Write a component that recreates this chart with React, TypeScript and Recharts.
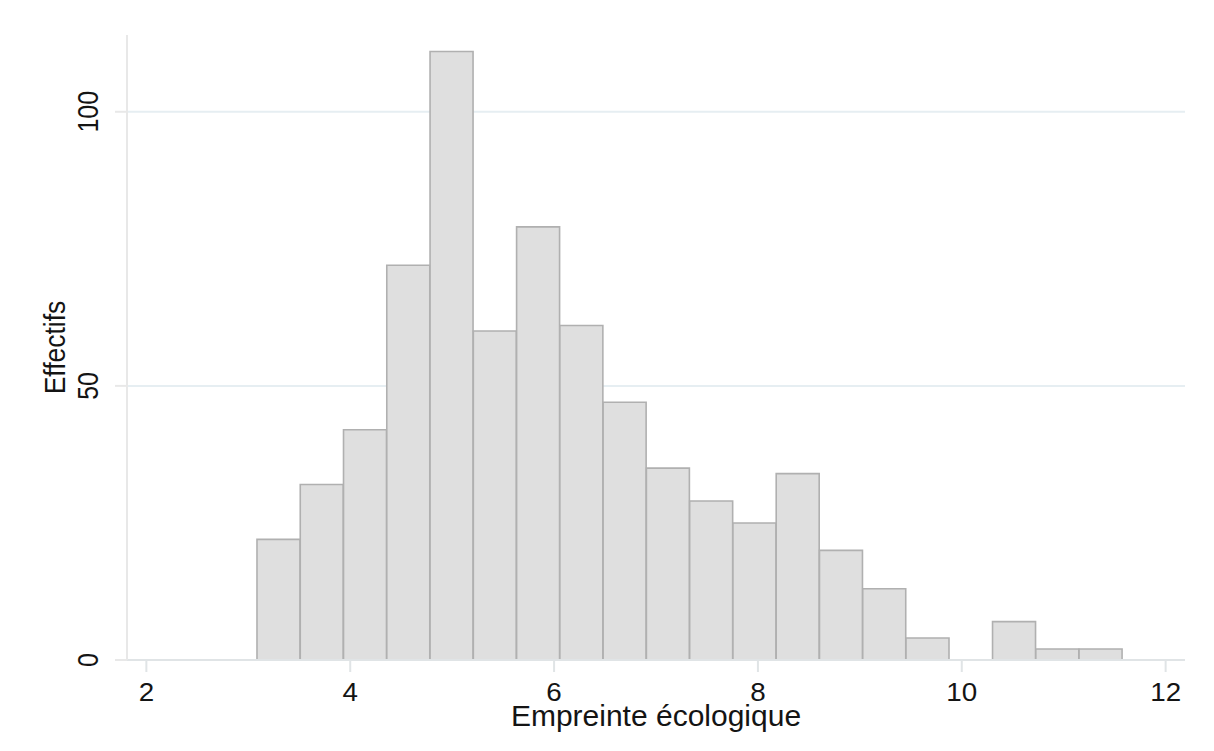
import type { FC } from "react";
import {
  BarChart,
  Bar,
  XAxis,
  YAxis,
  CartesianGrid,
  Label,
} from "recharts";

// Bin edges (Empreinte écologique) and counts per bin
const binEdges = [
  3.085, 3.51, 3.934, 4.359, 4.783, 5.208, 5.632, 6.057, 6.481, 6.906, 7.33,
  7.755, 8.179, 8.604, 9.028, 9.453, 9.877, 10.302, 10.726, 11.151, 11.575,
];
const counts = [
  22, 32, 42, 72, 111, 60, 79, 61, 47, 35, 29, 25, 34, 20, 13, 4, 0, 7, 2, 2,
];
const xTicks = [2, 4, 6, 8, 10, 12];
const yTicks = [0, 50, 100];

const data = counts.map((count, i) => ({
  lo: binEdges[i],
  hi: binEdges[i + 1],
  mid: (binEdges[i] + binEdges[i + 1]) / 2,
  count,
}));

const FONT = "'Liberation Sans', Arial, sans-serif";
const INK = "#141414";

const XTick = (props: any) => {
  const { x, y, payload } = props;
  return (
    <text
      transform={`translate(${x},${y + 27}) scale(1.07,1)`}
      textAnchor="middle"
      fontFamily={FONT}
      fontSize={26}
      fill={INK}
    >
      {payload.value}
    </text>
  );
};

const YTick = (props: any) => {
  const { y, payload } = props;
  return (
    <text
      transform={`translate(98,${y}) scale(1.2,1) rotate(-90)`}
      textAnchor="middle"
      fontFamily={FONT}
      fontSize={25}
      fill={INK}
    >
      {payload.value}
    </text>
  );
};

const App: FC = () => {
  return (
    <div style={{ position: "absolute", left: 0, top: 0, background: "#fff" }}>
      <BarChart
        width={1214}
        height={751}
        data={data}
        margin={{ top: 35, right: 29, left: 0, bottom: 0 }}
        barCategoryGap={0}
        barGap={0}
      >
        <CartesianGrid
          vertical={false}
          horizontalValues={yTicks}
          stroke="#e6eef2"
          strokeWidth={2}
        />
        <XAxis
          type="number"
          dataKey="mid"
          domain={[1.81, 12.19]}
          ticks={xTicks}
          allowDataOverflow
          height={91}
          tickSize={12}
          stroke="#e0e4e6"
          strokeWidth={2}
          tick={<XTick />}
          interval={0}
        >
          <Label
            content={(p: any) => {
              const vb = p.viewBox;
              return (
                <text
                  x={vb.x + vb.width / 2}
                  y={vb.y + 66}
                  textAnchor="middle"
                  fontFamily={FONT}
                  fontSize={30}
                  fill={INK}
                >
                  Empreinte écologique
                </text>
              );
            }}
          />
        </XAxis>
        <YAxis
          type="number"
          domain={[0, 114]}
          ticks={yTicks}
          allowDataOverflow
          width={127}
          tickSize={12}
          stroke="#e8e8e8"
          strokeWidth={2}
          tick={<YTick />}
          interval={0}
        >
          <Label
            content={(p: any) => {
              const vb = p.viewBox;
              return (
                <text
                  transform={`translate(65,${vb.y + vb.height / 2}) scale(1.135,1) rotate(-90)`}
                  textAnchor="middle"
                  fontFamily={FONT}
                  fontSize={26.5}
                  fill={INK}
                >
                  Effectifs
                </text>
              );
            }}
          />
        </YAxis>
        <Bar
          dataKey="count"
          fill="#dfdfdf"
          stroke="#b0b0b0"
          strokeWidth={1.6}
          isAnimationActive={false}
        />
      </BarChart>
    </div>
  );
};

export default App;
